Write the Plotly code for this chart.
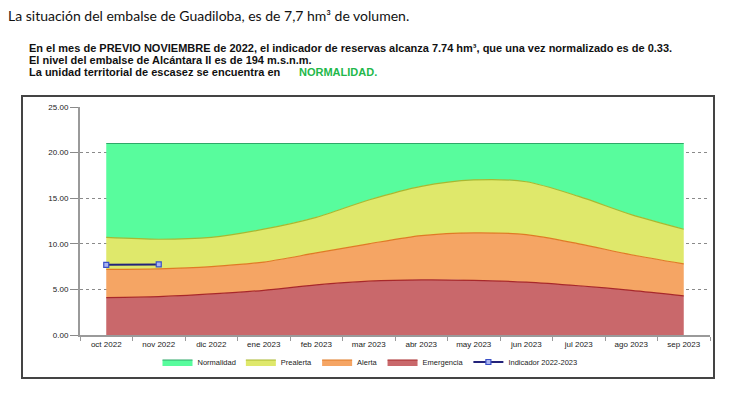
import plotly.graph_objects as go

meses = ["oct 2022", "nov 2022", "dic 2022", "ene 2023", "feb 2023", "mar 2023",
         "abr 2023", "may 2023", "jun 2023", "jul 2023", "ago 2023", "sep 2023"]

# upper limits of each scarcity band (hm3)
lim_emergencia = [4.1, 4.2, 4.5, 4.9, 5.5, 5.9, 6.05, 6.0, 5.8, 5.4, 4.9, 4.3]
lim_alerta     = [7.2, 7.25, 7.5, 8.0, 9.0, 10.0, 10.9, 11.2, 11.0, 10.0, 8.8, 7.8]
lim_prealerta  = [10.7, 10.5, 10.7, 11.6, 12.9, 14.8, 16.3, 17.0, 16.8, 15.2, 13.2, 11.6]
lim_normalidad = [21.0] * 12

ind_meses = ["oct 2022", "nov 2022"]
indicador = [7.7, 7.74]

W, H = 730, 398
L, R, T, B = 80, 730 - 710, 107, 398 - 335
pw, ph = W - L - R, H - T - B

def px(x):
    return (x - L) / pw

def py(y):
    return (H - B - y) / ph

fig = go.Figure()

bands = [
    ("Emergencia", lim_emergencia, "#c9686b", "#a8282a", "tozeroy"),
    ("Alerta", lim_alerta, "#f5a564", "#e07a25", "tonexty"),
    ("Prealerta", lim_prealerta, "#dfe86b", "#a9b830", "tonexty"),
    ("Normalidad", lim_normalidad, "#58fc9d", "#2fa868", "tonexty"),
]
rank = {"Normalidad": 1, "Prealerta": 2, "Alerta": 3, "Emergencia": 4}
for name, vals, fc, lc, fill in bands:
    fig.add_trace(go.Scatter(
        x=meses, y=vals, name=name, mode="lines", fill=fill,
        fillcolor=fc, line=dict(color=lc, width=1.2, shape="spline", smoothing=0.8),
        legendrank=rank[name],
    ))

fig.add_trace(go.Scatter(
    x=ind_meses, y=indicador, name="Indicador 2022-2023", mode="lines+markers",
    line=dict(color="#23237a", width=2),
    marker=dict(symbol="square", size=5, color="#aab4f0", line=dict(color="#3a50c8", width=1.2)),
    legendrank=5,
))

tickfont = dict(family="Liberation Sans", size=8, color="#222")

fig.update_layout(
    width=W, height=H,
    margin=dict(l=L, r=R, t=T, b=B),
    paper_bgcolor="white", plot_bgcolor="white",
    showlegend=True,
    legend=dict(orientation="h", x=px(370), xanchor="center", y=py(362), yanchor="middle",
                traceorder="normal",
                font=dict(family="Liberation Sans", size=7.5, color="#222"),
                itemwidth=30, tracegroupgap=0, bgcolor="rgba(0,0,0,0)"),
    xaxis=dict(type="category", categoryorder="array", categoryarray=meses,
               range=[-0.5, 11.5], showgrid=False, showline=True, linecolor="#9a9a9a",
               linewidth=2, ticks="outside", tickson="boundaries", ticklen=4,
               tickcolor="#9a9a9a", tickfont=tickfont, zeroline=False, automargin=False),
    yaxis=dict(range=[0, 25], tickvals=[0, 5, 10, 15, 20, 25], tickformat=".2f",
               showgrid=True, gridcolor="#8a8a8a", griddash="3px,3px", gridwidth=1,
               showline=True, linecolor="#9a9a9a", linewidth=2,
               ticks="outside", ticklen=8, tickcolor="#8a8a8a",
               tickfont=tickfont, zeroline=False, automargin=False),
)

# outer frame
fig.add_shape(type="rect", xref="paper", yref="paper",
              x0=px(22), x1=px(714), y0=py(378), y1=py(96),
              line=dict(color="#444", width=2), fillcolor="rgba(0,0,0,0)", layer="below")

fig.add_annotation(xref="paper", yref="paper", x=px(6), y=py(15), xanchor="left", yanchor="middle",
                   text="La situación del embalse de Guadiloba, es de 7,7 hm³ de volumen.",
                   showarrow=False, font=dict(family="Lato", size=14, color="#111"))

sub_font = dict(family="Liberation Sans", size=11, color="#111")
lines = [
    "<b>En el mes de PREVIO NOVIEMBRE de 2022, el indicador de reservas alcanza 7.74 hm³, que una vez normalizado es de 0.33.</b>",
    "<b>El nivel del embalse de Alcántara II es de 194 m.s.n.m.</b>",
    "<b>La unidad territorial de escasez se encuentra en</b>",
]
for txt, yy in zip(lines, [48, 60, 72]):
    fig.add_annotation(xref="paper", yref="paper", x=px(27), y=py(yy), xanchor="left", yanchor="middle",
                       text=txt, showarrow=False, font=sub_font)
fig.add_annotation(xref="paper", yref="paper", x=px(297), y=py(72), xanchor="left", yanchor="middle",
                   text="<b>NORMALIDAD.</b>", showarrow=False,
                   font=dict(family="Liberation Sans", size=11, color="#22b84a"))

fig.write_html("out.html", config={"displayModeBar": False},
               post_script="document.body.style.margin='0px';")
